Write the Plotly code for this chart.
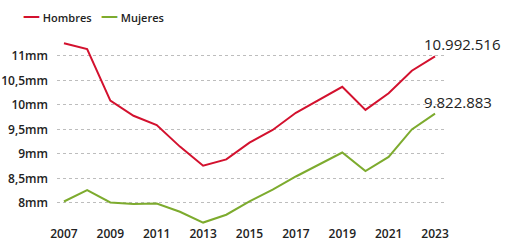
import plotly.graph_objects as go

years = list(range(2007, 2024))
hombres = [11.26, 11.14, 10.09, 9.78, 9.59, 9.15, 8.76, 8.89, 9.23, 9.49, 9.84,
           10.11, 10.37, 9.90, 10.24, 10.70, 10.992516]
mujeres = [8.03, 8.26, 8.01, 7.98, 7.99, 7.82, 7.60, 7.76, 8.03, 8.27, 8.54,
           8.78, 9.03, 8.65, 8.94, 9.50, 9.822883]
ytick_vals = [8, 8.5, 9, 9.5, 10, 10.5, 11]
ytick_text = ["8mm", "8,5mm", "9mm", "9,5mm", "10mm", "10,5mm", "11mm"]
xtick_vals = list(range(2007, 2024, 2))
last_labels = ["10.992.516", "9.822.883"]
series_names = ["Hombres", "Mujeres"]

RED = "#d3112e"
GREEN = "#7dab2e"
FONT = "Open Sans"
TXT = "#222222"

W, H = 512, 244
L, R, T, B = 57, 67, 30, 19
PW = W - L - R

fig = go.Figure()
fig.add_trace(go.Scatter(x=years, y=hombres, mode="lines", name=series_names[0],
                         line=dict(color=RED, width=2)))
fig.add_trace(go.Scatter(x=years, y=mujeres, mode="lines", name=series_names[1],
                         line=dict(color=GREEN, width=2)))

for vals, lab in zip([hombres, mujeres], last_labels):
    fig.add_annotation(x=years[-1], y=vals[-1], text=lab, showarrow=False,
                       xanchor="left", yanchor="middle", xshift=-13, yshift=12,
                       font=dict(family=FONT, size=15, color=TXT))

# legend drawn as text items
for name, col, xpos in zip(series_names, [RED, GREEN], [21, 99]):
    fig.add_annotation(xref="paper", yref="paper", x=(xpos - L) / PW, y=1.0,
                       xanchor="left", yanchor="middle", yshift=(T - 15),
                       showarrow=False,
                       text=(f"<span style='color:{col};font-size:17px'><b>—</b></span>"
                             f" {name}"),
                       font=dict(family=FONT, size=11, color=TXT, weight=600))

fig.update_layout(
    width=W, height=H,
    margin=dict(l=L, r=R, t=T, b=B, autoexpand=False),
    paper_bgcolor="white", plot_bgcolor="white",
    font=dict(family=FONT, size=12, color=TXT),
    showlegend=False,
)
fig.update_xaxes(range=[2006.70, 2023.43], tickvals=xtick_vals, showgrid=False,
                 zeroline=False, showline=False, ticks="",
                 tickfont=dict(family=FONT, size=12, weight=600, color=TXT))
fig.update_yaxes(range=[7.55, 11.53], tickvals=ytick_vals, ticktext=ytick_text,
                 showgrid=True, gridcolor="#bdbdbd", griddash="dot", gridwidth=1,
                 zeroline=False, showline=False, ticks="", ticklabelstandoff=8,
                 tickfont=dict(family=FONT, size=12, weight=600, color=TXT))

fig.write_html("out.html", config={"displayModeBar": False},
               post_script="document.body.style.margin='0';")
